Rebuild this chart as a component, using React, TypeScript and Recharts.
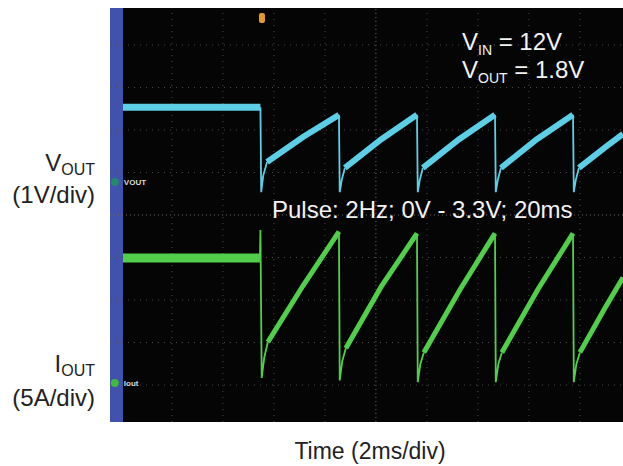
import {
  CartesianGrid,
  ComposedChart,
  Line,
  ReferenceArea,
  ReferenceDot,
  ReferenceLine,
  XAxis,
  YAxis,
} from "recharts";

// time in ms (2ms/div), VOUT in V (1V/div), IOUT in A (5A/div)
const TIME_RANGE: [number, number] = [-0.43, 19.69];
const VOUT_RANGE: [number, number] = [-5.647, 4.094];
const IOUT_RANGE: [number, number] = [-4.59, 44.12];
const DIV_RANGE: [number, number] = [-4.87, 4.87];

const GRID_TIMES = [2, 4, 6, 8, 12, 14, 16, 18];
const GRID_DIVS = [-4, -3, -2, -1, 1, 2, 3, 4];

type Pt = [number, number | null];

const VOUT_FLAT: Pt[] = [[0.08, 1.76], [5.47, 1.76]];
const VOUT_RAMPS: Pt[] = [
  [5.73, 0.47], [7.14, 1.06], [8.55, 1.58], [8.55, null],
  [8.78, 0.33], [10.2, 1.0], [11.61, 1.58], [11.61, null],
  [11.84, 0.33], [13.25, 1.0], [14.67, 1.58], [14.67, null],
  [14.9, 0.33], [16.3, 1.0], [17.73, 1.58], [17.73, null],
  [17.96, 0.33], [19.0, 0.82], [19.69, 1.13],
];
const VOUT_EDGES: Pt[] = [
  [5.47, 1.76], [5.5, -0.24], [5.58, 0.15], [5.73, 0.47], [5.73, null],
  [8.55, 1.58], [8.58, -0.24], [8.66, 0.05], [8.78, 0.33], [8.78, null],
  [11.61, 1.58], [11.64, -0.24], [11.72, 0.05], [11.84, 0.33], [11.84, null],
  [14.67, 1.58], [14.7, -0.24], [14.78, 0.05], [14.9, 0.33], [14.9, null],
  [17.73, 1.58], [17.76, -0.24], [17.84, 0.05], [17.96, 0.33],
];

const IOUT_FLAT: Pt[] = [[0.08, 14.7], [5.45, 14.7]];
const IOUT_RAMPS: Pt[] = [
  [5.76, 4.8], [7.15, 11.5], [8.55, 17.8], [8.55, null],
  [8.82, 4.1], [10.2, 11.3], [11.61, 17.6], [11.61, null],
  [11.88, 3.6], [13.3, 11.0], [14.67, 17.6], [14.67, null],
  [14.94, 3.6], [16.35, 11.0], [17.73, 17.6], [17.73, null],
  [18.0, 3.6], [19.0, 8.9], [19.69, 12.4],
];
const IOUT_EDGES: Pt[] = [
  [5.45, 14.7], [5.47, 18.0], [5.52, 0.6], [5.62, 3.0], [5.76, 4.8], [5.76, null],
  [8.55, 17.8], [8.58, 0.3], [8.68, 2.6], [8.82, 4.1], [8.82, null],
  [11.61, 17.6], [11.64, 0.1], [11.74, 2.2], [11.88, 3.6], [11.88, null],
  [14.67, 17.6], [14.7, 0.1], [14.8, 2.2], [14.94, 3.6], [14.94, null],
  [17.73, 17.6], [17.76, 0.1], [17.86, 2.2], [18.0, 3.6],
];

const CYAN = "#5ccfe6";
const GREEN = "#52cf4a";
const FONT = "'Liberation Sans', Arial, sans-serif";

const toRows = (pts: Pt[]) => pts.map(([t, v]) => ({ t, v }));

function ChannelMark({ cx, cy, color, label }: any) {
  return (
    <g>
      <circle cx={cx} cy={cy} r={4} fill={color} />
      <text x={cx + 9} y={cy + 3} fill="#d8d8d8" fontSize={8} fontFamily={FONT} fontWeight="bold">
        {label}
      </text>
    </g>
  );
}

function TriggerMark({ cx, cy }: any) {
  return <rect x={cx - 3} y={cy - 5} width={6} height={10} rx={2} fill="#e39a2c" />;
}

const sub = { fontSize: 14, lineHeight: "14px", position: "relative" as const, top: 5 };
const sideSub = { fontSize: 16, lineHeight: "16px", position: "relative" as const, top: 4 };
const side = {
  position: "absolute" as const,
  right: 623 - 95,
  fontSize: 24,
  lineHeight: "24px",
  color: "#222",
  whiteSpace: "nowrap" as const,
  textAlign: "right" as const,
};
const inside = {
  position: "absolute" as const,
  fontSize: 24,
  lineHeight: "24px",
  color: "#f2f2f2",
  whiteSpace: "nowrap" as const,
};

export default function App() {
  return (
    <div
      style={{
        position: "absolute",
        left: 0,
        top: 0,
        width: 623,
        height: 466,
        background: "#fff",
        fontFamily: FONT,
        overflow: "hidden",
      }}
    >
      <ComposedChart
        width={623}
        height={466}
        margin={{ top: 8, right: 0, bottom: 44, left: 110 }}
      >
        <CartesianGrid fill="#050505" fillOpacity={1} horizontal={false} vertical={false} />
        <XAxis dataKey="t" type="number" domain={TIME_RANGE} allowDataOverflow hide />
        <YAxis yAxisId="v" type="number" domain={VOUT_RANGE} allowDataOverflow hide />
        <YAxis yAxisId="i" type="number" domain={IOUT_RANGE} allowDataOverflow hide />
        <YAxis yAxisId="div" type="number" domain={DIV_RANGE} allowDataOverflow hide />

        {GRID_TIMES.map((t) => (
          <ReferenceLine key={"x" + t} x={t} yAxisId="div" stroke="#4a4a4a" strokeDasharray="1 5" />
        ))}
        {GRID_DIVS.map((d) => (
          <ReferenceLine key={"y" + d} y={d} yAxisId="div" stroke="#4a4a4a" strokeDasharray="1 5" />
        ))}
        <ReferenceLine x={10} yAxisId="div" stroke="#6a6a6a" strokeDasharray="1 3" />
        <ReferenceLine y={0} yAxisId="div" stroke="#6a6a6a" strokeDasharray="1 3" />

        <ReferenceArea
          x1={TIME_RANGE[0]}
          x2={0.08}
          y1={DIV_RANGE[0]}
          y2={DIV_RANGE[1]}
          yAxisId="div"
          fill="#4052ab"
          fillOpacity={1}
          stroke="none"
        />

        <Line data={toRows(VOUT_FLAT)} dataKey="v" yAxisId="v" stroke={CYAN} strokeWidth={7} dot={false} isAnimationActive={false} />
        <Line data={toRows(VOUT_RAMPS)} dataKey="v" yAxisId="v" stroke={CYAN} strokeWidth={6} dot={false} isAnimationActive={false} />
        <Line data={toRows(VOUT_EDGES)} dataKey="v" yAxisId="v" stroke={CYAN} strokeWidth={1.8} dot={false} isAnimationActive={false} />

        <Line data={toRows(IOUT_FLAT)} dataKey="v" yAxisId="i" stroke={GREEN} strokeWidth={9} dot={false} isAnimationActive={false} />
        <Line data={toRows(IOUT_RAMPS)} dataKey="v" yAxisId="i" stroke={GREEN} strokeWidth={5} dot={false} isAnimationActive={false} />
        <Line data={toRows(IOUT_EDGES)} dataKey="v" yAxisId="i" stroke={GREEN} strokeWidth={1.8} dot={false} isAnimationActive={false} />

        <ReferenceDot x={-0.24} y={0} yAxisId="v" shape={(p: any) => <ChannelMark {...p} color="#23896b" label="VOUT" />} />
        <ReferenceDot x={-0.24} y={0} yAxisId="i" shape={(p: any) => <ChannelMark {...p} color="#3dbb3a" label="Iout" />} />
        <ReferenceDot x={5.53} y={4.635} yAxisId="div" shape={(p: any) => <TriggerMark {...p} />} />
      </ComposedChart>

      <div style={{ ...inside, left: 462, top: 30 }}>
        V<span style={sub}>IN</span> = 12V
      </div>
      <div style={{ ...inside, left: 462, top: 58 }}>
        V<span style={sub}>OUT</span> = 1.8V
      </div>
      <div style={{ ...inside, left: 272, top: 198 }}>
        Pulse: 2Hz; 0V - 3.3V; 20ms
      </div>

      <div style={{ ...side, top: 151 }}>
        V<span style={sideSub}>OUT</span>
      </div>
      <div style={{ ...side, top: 183 }}>(1V/div)</div>
      <div style={{ ...side, top: 352 }}>
        I<span style={sideSub}>OUT</span>
      </div>
      <div style={{ ...side, top: 386 }}>(5A/div)</div>

      <div style={{ position: "absolute", left: 0, width: 740, top: 440, fontSize: 23, lineHeight: "23px", color: "#222", textAlign: "center" }}>
        Time (2ms/div)
      </div>
    </div>
  );
}
